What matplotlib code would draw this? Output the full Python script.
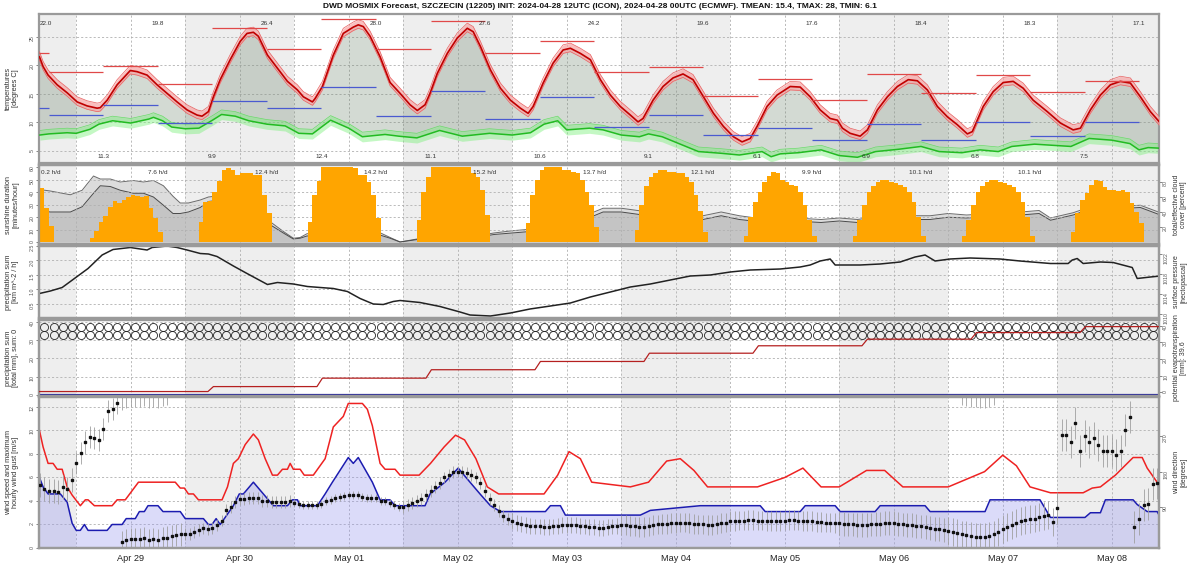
import numpy as np
import matplotlib.pyplot as plt

plt.rcParams['font.family'] = ['Liberation Sans', 'DejaVu Sans']

# x axis: hours since 2024-04-28 00 UTC
X0, X1 = 15.8, 262.4
day_labels = ["Apr 29", "Apr 30", "May 01", "May 02", "May 03",
              "May 04", "May 05", "May 06", "May 07", "May 08"]

# ---------------- temperature / dew point ----------------
temp_h = [15.9, 16.7, 17.8, 19.8, 22.0, 24.2, 26.4, 28.6, 29.3, 30.8,
          33.0, 35.9, 37.4, 39.6, 41.8, 44.0, 46.2, 48.4, 50.6, 51.7,
          53.1, 54.2, 55.7, 57.9, 60.1, 61.6, 63.0, 64.1, 66.1, 68.3,
          70.5, 72.7, 74.0, 76.0, 76.6, 78.2, 80.6, 82.8, 85.0, 86.1,
          87.2, 88.7, 90.9, 93.1, 95.3, 97.5, 99.1, 100.8, 101.9, 103.5,
          105.7, 107.9, 110.1, 111.4, 113.0, 115.2, 117.4, 119.6, 121.8, 123.5,
          124.6, 126.8, 129.0, 131.2, 132.8, 135.0, 137.2, 139.4, 141.6, 143.8,
          146.0, 147.7, 148.8, 151.0, 153.2, 155.4, 157.6, 159.8, 162.1, 164.3,
          166.5, 168.7, 170.6, 172.4, 173.9, 176.1, 178.3, 181.2, 183.4, 185.6,
          187.8, 190.0, 191.6, 192.7, 194.4, 196.6, 198.2, 200.4, 202.6, 204.8,
          207.2, 209.2, 211.4, 213.6, 215.8, 218.0, 220.2, 221.3, 223.7, 225.9,
          228.1, 230.3, 232.5, 234.7, 237.8, 240.7, 243.5, 245.1, 247.3, 249.5,
          251.7, 253.9, 256.1, 258.3, 260.5, 262.7]
temp_v = [21.5, 19.8, 18.3, 16.6, 15.2, 13.6, 12.9, 12.5, 12.6, 13.9,
          16.6, 19.1, 18.9, 18.3, 16.6, 15.1, 13.6, 12.2, 11.3, 11.1,
          11.9, 14.5, 17.5, 21.0, 24.2, 25.6, 25.8, 25.1, 21.8, 19.5,
          17.2, 15.7, 14.5, 13.6, 14.2, 16.3, 21.8, 25.6, 26.7, 27.1,
          26.8, 25.1, 21.5, 17.0, 15.1, 13.1, 12.1, 13.1, 15.1, 18.6,
          22.1, 24.8, 26.5, 25.9, 23.3, 19.2, 16.0, 13.9, 12.5, 11.6,
          12.8, 16.9, 20.4, 22.7, 23.0, 22.1, 21.0, 17.5, 14.8, 12.8,
          11.3, 10.1, 10.7, 13.9, 16.3, 17.8, 18.5, 17.5, 14.5, 11.6,
          9.3, 7.5, 6.6, 7.2, 9.3, 12.8, 14.8, 16.3, 16.2, 14.5,
          12.2, 10.7, 10.4, 9.0, 8.1, 7.6, 8.7, 12.2, 14.5, 16.3,
          17.5, 17.3, 15.7, 12.8, 11.0, 9.6, 8.0, 8.4, 12.8, 15.4,
          17.0, 17.2, 16.0, 13.9, 11.9, 9.9, 8.7, 9.0, 12.2, 14.8,
          16.6, 17.2, 16.9, 14.5, 11.9, 9.9]
dew_h = [16, 18, 22, 24, 27, 29, 32, 36, 40, 41,
         43, 45, 48, 51, 54, 56, 59, 62, 66, 70,
         73, 76, 80, 84, 87, 92, 95, 99, 104, 109,
         115, 120, 124, 127, 130, 132, 137, 140, 144, 148,
         150, 153, 157, 161, 166, 170, 175, 177, 179, 183,
         188, 192, 196, 200, 205, 210, 214, 219, 223, 227,
         230, 235, 239, 243, 247, 252, 256, 258, 260, 262.4]
dew_v = [7.8, 8.0, 8.2, 8.1, 8.8, 9.7, 10.3, 9.9, 10.6, 10.9,
         10.3, 9.2, 8.9, 9.0, 10.4, 11.4, 11.1, 10.3, 9.7, 9.4,
         8.1, 8.0, 10.4, 9.0, 7.5, 7.9, 7.6, 7.3, 8.6, 7.6,
         8.1, 7.8, 8.2, 9.7, 10.3, 8.7, 9.0, 8.7, 7.8, 7.5,
         8.0, 7.5, 6.2, 4.9, 4.6, 4.3, 4.9, 4.0, 4.5, 4.7,
         5.2, 4.2, 3.9, 4.9, 5.3, 5.8, 4.9, 4.7, 5.2, 4.9,
         5.8, 6.2, 6.0, 5.8, 7.2, 6.9, 6.3, 5.2, 5.6, 5.5]

# 12-hourly max / min (06-18 / 18-06 UTC blocks)
block_edges = [15.8, 18, 30, 42, 54, 66, 78, 90, 102, 114, 126, 138,
               150, 162, 174, 186, 198, 210, 222, 234, 246, 258]
tmax_block = [22.1, 18.9, 19.9, 16.7, 26.5, 22.8, 28.1, 22.8, 27.7, 22.2, 24.2,
              18.8, 19.7, 14.6, 17.6, 13.9, 18.5, 15.2, 18.4, 15.4, 17.2]
tmin_block = [12.5, 11.3, 13.0, 9.9, 13.8, 12.5, 16.2, 11.1, 15.5, 10.6, 14.4,
              9.2, 11.3, 7.8, 9.0, 6.9, 9.7, 6.9, 10.1, 7.6, 10.1]
tmax_lab_h = [17.3, 42, 66, 90, 114, 138, 162, 186, 210, 234, 258]
tmax_lab = ["22.0", "19.8", "26.4", "28.0", "27.6", "24.2", "19.6", "17.6", "18.4", "18.3", "17.1"]
tmin_lab_h = [30, 54, 78, 102, 126, 150, 174, 198, 222, 246]
tmin_lab = ["11.3", "9.9", "12.4", "11.1", "10.6", "9.1", "6.1", "6.9", "6.8", "7.5"]

# ---------------- sunshine (minutes/hour) and cloud cover ----------------
sun_start = [16, 27, 51, 75, 99, 123, 147, 171, 195, 219, 243]
sun_apr28 = [43, 27, 13]
sun_apr29 = [3, 9, 16, 21, 28, 33, 31, 34, 36, 38, 37, 36, 37, 27, 19, 8]
sun_apr30 = [16, 32, 33, 40, 49, 58, 59, 58, 54, 55, 55, 55, 54, 54, 38, 23]
sun_may01 = [16, 38, 49, 60, 60, 60, 60, 60, 60, 60, 59, 54, 54, 48, 38, 19]
sun_may02 = [18, 40, 52, 60, 60, 60, 60, 60, 60, 60, 60, 60, 55, 52, 42, 22]
sun_may03 = [15, 38, 50, 58, 60, 60, 60, 60, 58, 58, 56, 55, 50, 40, 30, 12]
sun_may04 = [10, 30, 45, 52, 55, 58, 58, 56, 56, 55, 55, 52, 48, 38, 25, 8]
sun_may05 = [5, 20, 32, 40, 48, 53, 56, 55, 50, 48, 46, 45, 40, 30, 18, 5]
sun_may06 = [5, 18, 30, 40, 45, 48, 50, 50, 48, 47, 46, 44, 40, 32, 20, 5]
sun_may07 = [5, 18, 30, 40, 45, 48, 50, 50, 48, 47, 46, 44, 40, 32, 20, 5]
sun_may08 = [8, 23, 34, 39, 46, 50, 49, 44, 42, 42, 41, 42, 40, 31, 24, 15]
sun_days = [sun_apr28, sun_apr29, sun_apr30, sun_may01, sun_may02, sun_may03,
            sun_may04, sun_may05, sun_may06, sun_may07, sun_may08]
sun_lab_h = [16.2, 42, 66, 90, 114, 138, 162, 186, 210, 234]
sun_lab = ["0.2 h/d", "7.6 h/d", "12.4 h/d", "14.2 h/d", "15.2 h/d",
           "13.7 h/d", "12.1 h/d", "9.9 h/d", "10.1 h/d", "10.1 h/d"]

cloud_h = [15.9, 18.3, 20.9, 22.7, 25.3, 27.8, 29.3, 31.5, 33.7, 36.6,
           38.8, 41.0, 43.2, 45.3, 46.9, 48.7, 51.3, 53.1, 56, 60,
           64, 66.7, 69.6, 71.8, 73.3, 74.8, 80, 86, 91.0, 93.1,
           95.3, 100, 106, 112, 116, 120, 126, 132, 136, 140,
           144, 150, 156, 162, 166, 170, 176, 182, 188, 192,
           196, 202, 208, 212, 216, 220, 226, 232, 236, 238.5,
           243.5, 247.3, 252, 258.3, 262.7]
cloud_tot = [70, 68, 65, 63, 69, 88, 84, 84, 80, 82,
             80, 82, 75, 61, 52, 52, 56, 60, 62, 62,
             55, 27, 14, 5, 6, 11, 12, 12, 12, 6,
             0, 5, 8, 8, 12, 15, 18, 25, 35, 45,
             45, 40, 35, 35, 40, 35, 30, 32, 30, 32,
             30, 35, 35, 35, 38, 36, 38, 40, 42, 32,
             39, 47, 47, 49, 39]
cloud_eff = [42, 40, 40, 40, 47, 65, 75, 74, 69, 65,
             65, 60, 49, 38, 38, 40, 46, 54, 56, 56,
             50, 23, 12, 4, 5, 8, 9, 9, 9, 5,
             0, 4, 6, 6, 10, 12, 15, 22, 30, 40,
             40, 35, 30, 30, 35, 30, 26, 28, 26, 28,
             26, 30, 30, 30, 33, 32, 34, 36, 38, 29,
             36, 44, 44, 46, 36]

# ---------------- surface pressure (hPa) ----------------
pres_h = [15.9, 18.3, 20.9, 24.2, 26.6, 29.7, 32.1, 35.9, 39.6, 40.7,
          44.0, 46.2, 48.4, 51.3, 53.1, 55.0, 58.6, 61.6, 66.1, 68.3,
          71.8, 74.9, 77.7, 80.6, 83.7, 86.5, 89.4, 91.6, 93.8, 95.3,
          99.7, 104.1, 108.5, 110.7, 115.2, 119.6, 123.9, 128.4, 132.8, 137.2,
          141.6, 146.0, 150.4, 154.8, 159.2, 163.6, 168.0, 172.4, 179.0, 183.4,
          185.6, 187.8, 190.0, 191.1, 196.6, 201.0, 205.4, 208.7, 210.9, 213.1,
          216.4, 220.8, 227.4, 231.8, 238.5, 242.4, 243.3, 244.4, 245.7, 249.5,
          252.3, 256.5, 257.6, 260.5, 262.7]
pres_v = [1014.1, 1014.6, 1015.3, 1017.5, 1019.1, 1021.8, 1022.9, 1023.3, 1022.8, 1023.3,
          1023.6, 1023.3, 1022.8, 1022.1, 1022.0, 1021.5, 1019.6, 1018.1, 1015.9, 1016.3,
          1016.0, 1015.5, 1015.3, 1015.1, 1014.5, 1013.1, 1012.0, 1011.9, 1012.5, 1012.7,
          1012.3, 1011.5, 1010.4, 1009.8, 1009.6, 1010.2, 1011.0, 1011.6, 1012.2, 1013.4,
          1014.4, 1015.4, 1016.0, 1016.8, 1017.6, 1017.8, 1018.4, 1018.8, 1019.0, 1019.4,
          1019.8, 1020.6, 1021.0, 1019.8, 1019.8, 1020.0, 1020.4, 1021.4, 1021.8, 1020.6,
          1021.0, 1021.2, 1021.0, 1020.6, 1020.1, 1020.1, 1020.8, 1021.1, 1020.1, 1020.4,
          1020.3, 1019.3, 1017.1, 1017.4, 1017.6]

# ---------------- precipitation / evapotranspiration (mm) ----------------
et_step_h = [53, 77, 101, 125, 149, 173, 197, 221, 245]
et_level = [0.3, 3.3, 8.4, 13.5, 18.5, 23.5, 28.0, 32.0, 36.0, 39.6]
precip_sum = 0.0

# ---------------- wind (m/s) and direction (deg) ----------------
wind_h = [15.9, 16.7, 17.8, 20.5, 22.0, 23.1, 24.0, 24.9, 25.8, 26.6,
          30.8, 31.9, 34.1, 35.0, 37.0, 37.9, 39.0, 39.8, 42.0, 43.1,
          46.9, 48.0, 52.0, 53.1, 53.9, 54.8, 55.7, 58.6, 59.9, 60.8,
          63.0, 65.2, 67.4, 70.5, 71.6, 72.7, 73.3, 77.1, 78.8, 80.4,
          83.9, 85.0, 86.1, 89.2, 90.9, 93.1, 94.2, 95.3, 100.8, 101.9,
          105.2, 108.1, 110.7, 112.9, 115.2, 117.4, 127.3, 128.4, 130.6, 131.7,
          148.2, 150.4, 161.4, 174.6, 175.7, 183.4, 184.5, 191.1, 192.2, 199.9,
          201.0, 210.9, 212.0, 224.1, 225.2, 236.2, 238.5, 246.1, 247.3, 249.5,
          250.6, 256.7, 257.6, 259.8, 262.0, 262.7]
wind_v = [6.0, 5.2, 4.6, 4.6, 3.9, 2.1, 1.5, 1.5, 2.0, 1.5,
          1.5, 2.0, 2.0, 2.5, 2.5, 3.1, 3.1, 3.6, 3.6, 3.1,
          3.1, 2.5, 2.5, 2.0, 2.0, 2.5, 2.0, 3.6, 4.6, 4.6,
          5.6, 4.6, 3.6, 3.6, 4.1, 4.1, 3.6, 3.6, 4.6, 5.6,
          7.7, 7.2, 7.7, 5.6, 4.1, 4.1, 3.6, 3.6, 3.6, 4.6,
          5.6, 6.8, 5.6, 4.6, 3.6, 3.1, 3.1, 3.6, 3.6, 2.8,
          2.8, 3.2, 3.6, 3.6, 3.1, 3.1, 3.6, 3.6, 3.1, 3.1,
          3.6, 3.6, 3.1, 3.1, 4.1, 4.1, 2.6, 2.6, 3.0, 3.0,
          4.1, 4.1, 3.7, 3.1, 3.1, 2.6]
gust_h = [15.9, 16.7, 17.8, 18.9, 19.8, 20.9, 22.0, 23.1, 24.9, 26.0,
          26.6, 28.0, 31.9, 33.0, 34.8, 37.7, 45.8, 46.9, 47.8, 48.7,
          49.8, 50.9, 56.1, 57.3, 58.6, 59.7, 61.2, 63.0, 64.1, 65.6,
          67.2, 68.3, 69.4, 70.5, 71.1, 71.8, 73.3, 74.2, 76.2, 78.8,
          80.6, 82.8, 83.9, 87.0, 88.1, 89.2, 90.9, 92.0, 94.2, 95.3,
          99.5, 102, 105, 107.5, 109.5, 112, 114.5, 117, 127, 130,
          132.5, 135, 137.5, 146, 150, 154, 157, 160, 163, 170,
          174, 180, 184, 188, 192, 198, 202, 206, 210, 216,
          224, 228, 231, 234, 238.5, 245.7, 247.7, 249.5, 252.8, 256.7,
          258.7, 259.8, 261.8, 262.7]
gust_v = [10.0, 8.6, 7.2, 7.2, 6.7, 6.7, 5.2, 4.5, 3.6, 4.1,
          4.1, 3.6, 3.6, 4.1, 4.1, 5.6, 5.6, 5.1, 5.1, 4.6,
          4.6, 4.1, 4.1, 5.2, 7.2, 7.6, 8.8, 9.7, 9.2, 7.6,
          6.2, 6.2, 6.7, 6.7, 7.2, 6.7, 6.7, 6.2, 6.2, 7.6,
          10.3, 11.2, 12.3, 12.3, 11.8, 10.4, 7.2, 6.7, 6.7, 6.2,
          6.2, 7.2, 8.6, 9.6, 9.2, 7.6, 5.2, 4.6, 4.6, 6.2,
          8.2, 7.6, 5.6, 5.2, 5.6, 7.4, 7.6, 6.6, 5.2, 5.2,
          5.2, 6.0, 6.8, 5.2, 5.2, 6.6, 6.6, 5.2, 5.2, 5.2,
          6.5, 7.9, 7.0, 5.2, 4.7, 4.7, 5.1, 5.2, 6.2, 7.7,
          7.7, 6.8, 5.7, 5.2]

dir_start = 16
dir_v = [145, 137, 131, 131, 128, 141, 135, 159, 201, 227, 253, 266, 264, 259, 287, 332, 337, 353,
         3, 7, 10, 11, 11, 13, 7, 10, 7, 12, 14, 17, 20, 22, 24, 22, 28, 34, 37, 35, 39, 45, 57,
         84, 91, 103, 110, 112, 113, 113, 114, 107, 105, 103, 103, 103, 103, 105, 102, 99, 95, 95, 95,
         95, 99, 105, 109, 113, 116, 118, 120, 120, 122, 117, 114, 113, 113, 107, 105, 101, 95, 92,
         92, 95, 100, 105, 112, 120, 130, 140, 152, 165, 172, 178, 180, 178, 176, 172, 165, 150, 130, 112, 95, 80, 68, 60,
         55, 50, 48, 45, 44, 42, 42, 40, 40, 42, 44, 45, 45, 46, 45, 44, 42, 40, 40, 38, 38, 40, 42, 44,
         45, 45, 44, 42, 40, 40, 42, 45, 47, 48, 48, 50, 50, 52, 52, 50, 48, 47, 47, 45, 45, 47, 50, 52,
         55, 55, 57, 57, 58, 58, 57, 57, 56, 55, 55, 56, 57, 58, 58, 57, 56, 55, 55, 54, 53, 52, 52, 50,
         50, 48, 47, 47, 46, 45, 45, 47, 48, 48, 50, 50, 50, 48, 47, 45, 45, 44, 42, 40, 38, 36, 35, 33,
         30, 28, 25, 22, 20, 18, 16, 15, 15, 18, 22, 28, 35, 40, 45, 50, 55, 58, 60, 62, 65, 68,
         70, 53, 89, 272, 272, 253, 302, 231, 270, 253, 263, 247, 231, 231, 232, 222, 232, 285, 317, 41, 60, 95, 99, 149, 150]
dir_err_day = [30, 28, 15, 10, 15, 20, 25, 25, 30, 35, 40]

# ================= drawing =================
fig = plt.figure(figsize=(12, 5.71), dpi=100)
W, H = 1200.0, 571.0
PL, PR = 39, 1159


def rect(top, bot):
    return [PL / W, 1 - bot / H, (PR - PL) / W, (bot - top) / H]


def shade(ax):
    for d in range(0, 12, 2):
        ax.axvspan(d * 24, d * 24 + 24, color='#eeeeee', lw=0, zorder=0)
    ax.set_xlim(X0, X1)


def grid(ax, yticks):
    for x in np.arange(24, 264, 12):
        ax.axvline(x, color='#b0b0b0', ls=(0, (2.5, 2.5)), lw=0.6, zorder=0.5)
    for y in yticks:
        ax.axhline(y, color='#b0b0b0', ls=(0, (2.5, 2.5)), lw=0.6, zorder=0.5)


def style(ax, yticks, fmt):
    ax.set_xlim(X0, X1)
    ax.set_xticks([])
    ax.set_yticks(yticks)
    ax.set_yticklabels([fmt(v) for v in yticks])
    ax.tick_params(axis='y', labelsize=3.8, labelrotation=90, length=2, width=0.5,
                   pad=1, colors='#555555')
    for s in ax.spines.values():
        s.set_color('#9a9a9a')
        s.set_linewidth(1.6)


# ---------- panel 1: temperature ----------
ax1 = fig.add_axes(rect(14, 163))
shade(ax1)
ax1.set_ylim(2.9, 29.0)
grid(ax1, [5, 10, 15, 20, 25])
ax1.fill(np.r_[temp_h, dew_h[::-1]], np.r_[temp_v, dew_v[::-1]],
         color='#6f856f', alpha=0.3, lw=0, zorder=1)
tv = np.array(temp_v)
dv = np.array(dew_v)
ax1.fill_between(dew_h, dv - 0.9, dv + 0.8, color='#7cf07c', alpha=0.45, lw=0, zorder=2)
ax1.plot(dew_h, dv + 0.8, color='#66dd66', lw=0.5, zorder=2)
ax1.plot(dew_h, dv, color='#22bb22', lw=1.1, zorder=3)
ax1.fill_between(temp_h, tv - 0.6, tv + 0.9, color='#f7a5a5', alpha=0.7, lw=0, zorder=3)
ax1.plot(temp_h, tv + 0.9, color='#e86060', lw=0.5, zorder=3)
ax1.plot(temp_h, tv - 0.6, color='#e86060', lw=0.5, zorder=3)
ax1.plot(temp_h, tv, color='#c00000', lw=1.2, zorder=4)
ax1.hlines(tmax_block, block_edges[:-1], block_edges[1:], color='#e04848', lw=0.9, zorder=5)
ax1.hlines(tmin_block, block_edges[:-1], block_edges[1:], color='#4a5ad0', lw=0.9, zorder=5)
for h, s in zip(tmax_lab_h, tmax_lab):
    ax1.text(h, 0.935, s, transform=ax1.get_xaxis_transform(), ha='center', va='center',
             fontsize=4.6, color='#333333', zorder=6)
for h, s in zip(tmin_lab_h, tmin_lab):
    ax1.text(h, 0.045, s, transform=ax1.get_xaxis_transform(), ha='center', va='center',
             fontsize=4.6, color='#333333', zorder=6)
style(ax1, [5, 10, 15, 20, 25], lambda v: f"{v:d}")

# ---------- panel 2: sunshine / cloud cover ----------
ax2c = fig.add_axes(rect(165, 244))
ax2 = ax2c.twinx()
ax2c.yaxis.tick_right()
ax2.yaxis.tick_left()
shade(ax2c)
ax2c.set_ylim(-2.7, 102.7)
ax2c.fill_between(cloud_h, 0, cloud_tot, color='#dcdcdc', lw=0, zorder=1)
ax2c.fill_between(cloud_h, 0, cloud_eff, color='#c4c4c4', lw=0, zorder=1.2)
ax2c.plot(cloud_h, cloud_tot, color='#6a6a6a', lw=0.7, zorder=2)
ax2c.plot(cloud_h, cloud_eff, color='#4a4a4a', lw=0.7, zorder=2)
ax2.set_ylim(-1.6, 61.6)
ax2.patch.set_visible(False)
grid(ax2, [10, 20, 30, 40, 50])
for st, vals in zip(sun_start, sun_days):
    hrs = np.arange(st, st + len(vals))
    ax2.bar(hrs, vals, width=1.0, align='edge', color='#ffa500', lw=0, zorder=2)
for h, s in zip(sun_lab_h, sun_lab):
    ax2.text(h, 0.9, s, transform=ax2.get_xaxis_transform(),
             ha='left' if h < 20 else 'center', va='center',
             fontsize=4.6, color='#333333', zorder=6)
style(ax2, [0, 10, 20, 30, 40, 50, 60], lambda v: f"{v:d}")
style(ax2c, [20, 40, 60, 80], lambda v: f"{v:d}")

# ---------- panel 3: pressure ----------
ax3 = fig.add_axes(rect(246, 318))
shade(ax3)
ax3.set_ylim(0, 2.48)
grid(ax3, [0.5, 1.0, 1.5, 2.0])
style(ax3, [0.5, 1.0, 1.5, 2.0, 2.5], lambda v: f"{v:.1f}")
ax3r = ax3.twinx()
ax3r.set_ylim(1009.2, 1023.6)
ax3r.plot(pres_h, pres_v, color='#222222', lw=1.1)
style(ax3r, [1010, 1014, 1018, 1022], lambda v: f"{v:d}")

# ---------- panel 4: precipitation / evapotranspiration ----------
ax4 = fig.add_axes(rect(320, 396))
shade(ax4)
ax4.set_ylim(-0.55, 41)
grid(ax4, [10, 20, 30, 40])
cx = np.arange(17, 262, 2.0)
ax4.plot(cx, np.full(len(cx), 37.2), ls='none', marker='o', ms=5.8, mfc='none',
         mec='#222222', mew=0.6, zorder=3)
ax4.plot(cx, np.full(len(cx), 32.8), ls='none', marker='o', ms=5.8, mfc='none',
         mec='#222222', mew=0.6, zorder=3)
ax4.plot([X0, X1], [precip_sum, precip_sum], color='#333399', lw=1.6, zorder=4)
style(ax4, [0, 10, 20, 30, 40], lambda v: f"{v:d}")
ax4r = ax4.twinx()
ax4r.set_ylim(-2.4, 43.6)
ex, ey = [X0], [et_level[0]]
for i, h in enumerate(et_step_h):
    ex += [h, h + 1.2]
    ey += [et_level[i], et_level[i + 1]]
ex.append(X1)
ey.append(et_level[-1])
ax4r.plot(ex, ey, color='#b52020', lw=0.9, zorder=5)
style(ax4r, [0, 10, 20, 30, 40], lambda v: f"{v:d}")

# ---------- panel 5: wind ----------
ax5 = fig.add_axes(rect(397, 548))
shade(ax5)
ax5.set_ylim(0, 12.85)
grid(ax5, [2, 4, 6, 8, 10, 12])
ax5.fill_between(wind_h, 0, wind_v, color='#9898ee', alpha=0.35, lw=0, zorder=1)
ax5.plot(gust_h, gust_v, color='#ee2222', lw=1.1, zorder=3)
ax5.plot(wind_h, wind_v, color='#1c1cb0', lw=1.1, zorder=3)
style(ax5, [0, 2, 4, 6, 8, 10, 12], lambda v: f"{v:d}")
ax5r = ax5.twinx()
ax5r.set_ylim(-12, 367)
dh = np.arange(dir_start, dir_start + len(dir_v))
dv5 = np.array(dir_v, dtype=float)
err = np.array([dir_err_day[int(h // 24)] for h in dh], dtype=float)
ax5r.vlines(dh, dv5 - err, dv5 + err, color='#a0a0a0', lw=0.6, zorder=2)
wrap = dv5 - err < -12
ax5r.vlines(dh[wrap], dv5[wrap] - err[wrap] + 360, 367, color='#a0a0a0', lw=0.6, zorder=2)
ax5r.plot(dh, dv5, ls='none', marker='s', ms=1.6, color='#111111', zorder=4)
style(ax5r, [90, 180, 270], lambda v: f"{v:d}")
ax5.set_xticks([36 + 24 * k for k in range(10)])
ax5.set_xticklabels(day_labels, fontsize=6.6, color='#222222')
ax5.tick_params(axis='x', length=0, pad=4)

# ---------- texts ----------
fig.text(0.5, 1 - 7 / H, "DWD MOSMIX Forecast, SZCZECIN (12205) INIT: 2024-04-28 12UTC (ICON), "
         "2024-04-28 00UTC (ECMWF). TMEAN: 15.4, TMAX: 28, TMIN: 6.1",
         ha='center', va='center', fontsize=6.0, fontweight='bold', color='#111111')
left_labels = [("temperatures\n[degrees C]", 88.5),
               ("sunshine duration\n[minutes/hour]", 204.5),
               ("precipitation sum\n[km m^-2 / h]", 282),
               ("precipitation sum\n[total mm], sum: 0", 358),
               ("wind speed and maximum\nhourly wind gust [m/s]", 472.5)]
for s, y in left_labels:
    fig.text(12 / W, 1 - y / H, s, rotation=90, ha='center', va='center',
             multialignment='center', fontsize=5.3, color='#333333', linespacing=1.1)
right_labels = [("total/effective cloud\ncover [percent]", 204.5),
                ("surface pressure\n[hectopascal]", 282),
                ("potential evapotranspiration\n[mm]: 39.6", 358),
                ("wind direction\n[degrees]", 472.5)]
for s, y in right_labels:
    fig.text(1180 / W, 1 - y / H, s, rotation=90, ha='center', va='center',
             multialignment='center', fontsize=5.0, color='#333333', linespacing=1.1)

fig.savefig("out.png", dpi=100)
